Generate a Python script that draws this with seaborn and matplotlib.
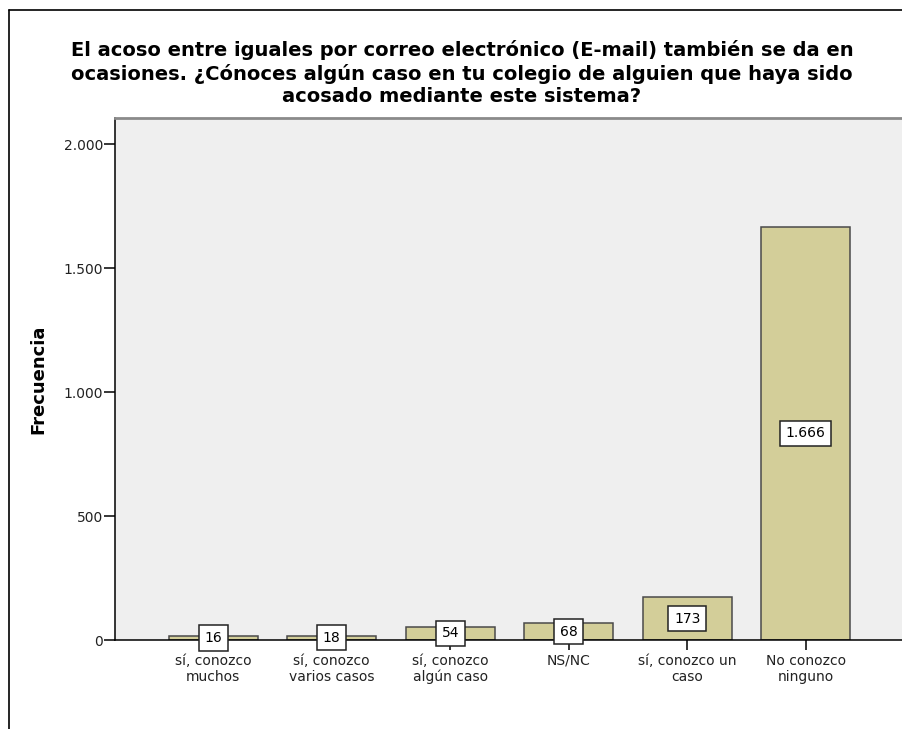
import matplotlib
matplotlib.use("Agg")
import matplotlib.pyplot as plt
from matplotlib.lines import Line2D
from matplotlib.ticker import FuncFormatter
import seaborn as sns
import pandas as pd

# Survey answers and their frequencies
categorias = [
    "sí, conozco\nmuchos",
    "sí, conozco\nvarios casos",
    "sí, conozco\nalgún caso",
    "NS/NC",
    "sí, conozco un\ncaso",
    "No conozco\nninguno",
]
frecuencias = [16, 18, 54, 68, 173, 1666]
ticks_y = [0, 500, 1000, 1500, 2000]

titulo = ("El acoso entre iguales por correo electrónico (E-mail) también se da en\n"
          "ocasiones. ¿Cónoces algún caso en tu colegio de alguien que haya sido\n"
          "acosado mediante este sistema?")

sns.set_theme(style="white")
plt.rcParams["font.family"] = ["DejaVu Sans"]


def miles(v, pos=None):
    return f"{int(round(v)):,}".replace(",", ".")


df = pd.DataFrame({"categoria": categorias, "frecuencia": frecuencias})

W, H = 903, 729
fig = plt.figure(figsize=(W / 100, H / 100), dpi=100)
fig.patch.set_facecolor("white")

# plot area in pixel coordinates
x0, x1, ytop, ybot = 115, 904, 118, 640
ax = fig.add_axes([x0 / W, (H - ybot) / H, (x1 - x0) / W, (ybot - ytop) / H])
ax.set_facecolor("#efefef")

sns.barplot(data=df, x="categoria", y="frecuencia", color="#d3ce99",
            saturation=1, width=0.75, edgecolor="#4a4a4a", linewidth=1.1,
            ax=ax)

ax.set_xlim(-0.83, 5.83)
ax.set_ylim(0, 2105)
ax.set_yticks(ticks_y)
ax.yaxis.set_major_formatter(FuncFormatter(miles))

ax.spines["right"].set_visible(False)
ax.spines["top"].set_color("#8a8a8a")
ax.spines["top"].set_linewidth(2)
ax.spines["left"].set_color("black")
ax.spines["left"].set_linewidth(1.1)
ax.spines["bottom"].set_color("black")
ax.spines["bottom"].set_linewidth(1.1)

ax.tick_params(axis="y", which="both", left=True, length=8, width=1.1,
               color="black", labelsize=10, labelcolor="#222222", pad=0.5)
ax.tick_params(axis="x", which="both", bottom=True, length=7, width=1.1,
               color="black", labelsize=10, labelcolor="#222222", pad=3)
for lab in ax.get_xticklabels():
    lab.set_linespacing(1.15)
ax.set_xlabel("")
ax.set_ylabel("Frecuencia", fontsize=13, fontweight="bold", labelpad=12,
              color="black")

# value labels centered in each bar
for i, v in enumerate(frecuencias):
    ax.text(i, v / 2, miles(v), ha="center", va="center", fontsize=10,
            color="black", zorder=5,
            bbox=dict(boxstyle="square,pad=0.4", facecolor="white",
                      edgecolor="#222222", linewidth=1.1))

fig.text(462 / W, 1 - 73 / H, titulo, ha="center", va="center",
         fontsize=14, fontweight="bold", linespacing=1.25, color="black")

# outer frame
fig.add_artist(Line2D([9.5 / W, 9.5 / W], [0, 1 - 10 / H], color="black",
                      linewidth=1.2, transform=fig.transFigure))
fig.add_artist(Line2D([9.5 / W, 1], [1 - 10 / H, 1 - 10 / H], color="black",
                      linewidth=1.2, transform=fig.transFigure))

fig.savefig("out.png", dpi=100)
